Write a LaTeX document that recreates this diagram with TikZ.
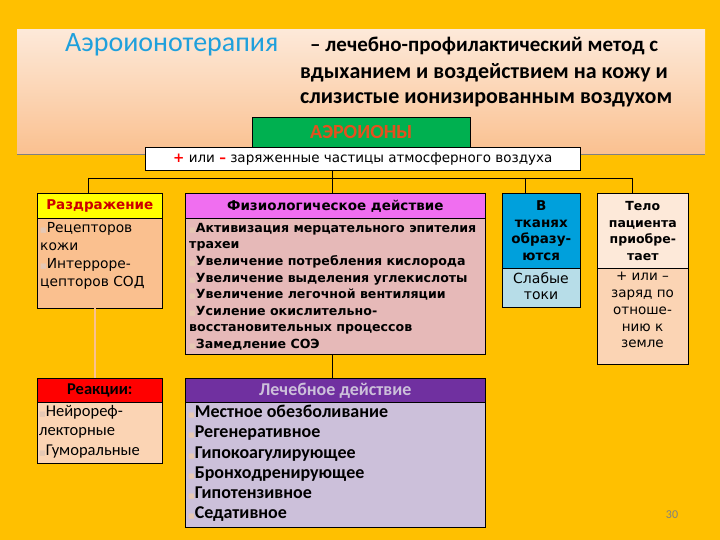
\documentclass[tikz,border=0pt]{standalone}
\usepackage{fontspec}
\setmainfont{DejaVu Sans}
\newfontfamily\crl{Carlito}
\newfontfamily\djv{DejaVu Sans}
\definecolor{bg}{RGB}{255,192,0}
\definecolor{ttl}{RGB}{31,160,220}
\definecolor{grn}{RGB}{0,176,80}
\definecolor{ion}{RGB}{230,80,30}
\definecolor{ylw}{RGB}{255,255,0}
\definecolor{razb}{RGB}{250,192,143}
\definecolor{mag}{RGB}{240,110,240}
\definecolor{pnk}{RGB}{230,185,184}
\definecolor{blu}{RGB}{0,160,220}
\definecolor{lblu}{RGB}{183,221,232}
\definecolor{lpch}{RGB}{253,233,217}
\definecolor{pch}{RGB}{251,212,180}
\definecolor{red1}{RGB}{255,0,0}
\definecolor{pur}{RGB}{112,48,160}
\definecolor{lav}{RGB}{204,192,218}
\definecolor{blt}{RGB}{230,200,180}
\newcommand{\bl}{{\djv\mdseries\fontsize{7}{7}\selectfont\textcolor{blt}{■}}}
\begin{document}
\begin{tikzpicture}[x=1pt,y=-1pt,
 box/.style={draw=black,line width=0.6pt,anchor=north west,inner sep=3pt},
 hdr/.style={box,align=center,font=\bfseries\fontsize{13.5}{15}\selectfont},
 ln/.style={draw=black,line width=0.6pt}]
\fill[bg] (0,0) rectangle (720,540);
\useasboundingbox (0,0) rectangle (720,540);
\shade[top color=lpch,bottom color=razb] (17,30) rectangle (705,155);
\draw[gray,line width=1pt] (17,155) -- (705,155);
\node[anchor=west,font=\crl\fontsize{28}{30}\selectfont,text=ttl,inner sep=0pt] (t1) at (65,45) {Аэроионотерапия};
\node[anchor=west,font=\crl\bfseries\fontsize{21}{24}\selectfont,inner sep=0pt] (t2) at (310,46) {– лечебно-профилактический метод с};
\node[anchor=west,font=\crl\bfseries\fontsize{22}{24}\selectfont,inner sep=0pt] (t3) at (300,73) {вдыханием и воздействием на кожу и};
\node[anchor=west,font=\crl\bfseries\fontsize{22}{24}\selectfont,inner sep=0pt] (t4) at (300,100) {слизистые ионизированным воздухом};

\node[box,fill=grn,minimum width=218pt,minimum height=30pt,font=\crl\bfseries\fontsize{20}{20}\selectfont,text=ion] (ion) at (252,117) {АЭРОИОНЫ};
\node[box,fill=white,minimum width=435pt,minimum height=23pt,inner sep=1pt,font=\fontsize{13.5}{14}\selectfont] (zar) at (145,147) {\textcolor{red1}{\bfseries +} или \textcolor{red1}{\bfseries –} заряженные частицы атмосферного воздуха};

\node[hdr,fill=ylw,text=red1!80!black,minimum width=125pt,minimum height=25pt] (rh) at (37,193) {Раздражение};
\node[box,fill=razb,minimum width=125pt,minimum height=90pt] (rb) at (37,218) {};
\node[anchor=north west,align=left,font=\fontsize{13.8}{18}\selectfont,inner sep=3pt] (rt) at (37,219) {\bl Рецепторов\\кожи\\\bl Интерроре-\\цепторов СОД};

\node[hdr,fill=mag,minimum width=300pt,minimum height=25pt] (fh) at (185,193) {Физиологическое действие};
\node[box,fill=pnk,minimum width=300pt,minimum height=136pt] (fb) at (185,218) {};
\node[anchor=north west,align=left,font=\bfseries\fontsize{12.6}{16.6}\selectfont,inner sep=3pt] (ft) at (186,220) {\bl Активизация мерцательного эпителия\\трахеи\\\bl Увеличение потребления кислорода\\\bl Увеличение выделения углекислоты\\\bl Увеличение легочной вентиляции\\\bl Усиление окислительно-\\восстановительных процессов\\\bl Замедление СОЭ};

\node[hdr,fill=blu,minimum width=78pt,minimum height=75pt,inner sep=1pt,font=\bfseries\fontsize{13.5}{16.5}\selectfont] (vh) at (502,193) {В\\тканях\\образу-\\ются};
\node[box,fill=lblu,minimum width=78pt,minimum height=39pt] (vb) at (502,268) {};
\node[anchor=north,align=center,font=\fontsize{14}{16.5}\selectfont,inner sep=2pt] (vt) at (541,270) {Слабые\\токи};

\node[hdr,fill=lpch,minimum width=91pt,minimum height=75pt,inner sep=1pt,font=\bfseries\fontsize{12.5}{16.5}\selectfont] (th) at (597,193) {Тело\\пациента\\приобре-\\тает};
\node[box,fill=pch,minimum width=91pt,minimum height=96pt] (tb) at (597,268) {};
\node[anchor=north,align=center,font=\fontsize{13.5}{16.8}\selectfont,inner sep=2pt] (tt) at (642.5,270) {+ или –\\заряд по\\отноше-\\нию к\\земле};

\node[hdr,fill=red1,minimum width=125pt,minimum height=24pt,inner sep=1pt,font=\crl\bfseries\fontsize{16.5}{16}\selectfont] (reh) at (37,378) {Реакции:};
\node[box,fill=pch,minimum width=125pt,minimum height=61pt] (reb) at (37,402) {};
\node[anchor=north west,align=left,font=\crl\fontsize{16.5}{19.5}\selectfont,inner sep=2pt] (ret) at (37,403) {\bl Нейрореф-\\лекторные\\\bl Гуморальные};

\node[hdr,fill=pur,text=lav,minimum width=300pt,minimum height=24pt,inner sep=1pt,font=\crl\bfseries\fontsize{18}{18}\selectfont] (lh) at (185,378) {Лечебное действие};
\node[box,fill=lav,minimum width=300pt,minimum height=125pt] (lb) at (185,402) {};
\node[anchor=north west,align=left,font=\crl\bfseries\fontsize{18}{20.2}\selectfont,inner sep=2pt] (lt) at (186,403) {\bl Местное обезболивание\\\bl Регенеративное\\\bl Гипокоагулирующее\\\bl Бронходренирующее\\\bl Гипотензивное\\\bl Седативное};

\node[font=\crl\fontsize{12}{12}\selectfont,text=gray] (num) at (672,515) {30};

\coordinate (bus) at (332,178);
\coordinate (bl) at (88,178);
\coordinate (br) at (632,178);
\draw[ln] (zar.south -| bus) -- (bus);
\draw[ln] (bl) -- (br);
\draw[ln] (bl) -- (bl |- rh.north);
\draw[ln] (bus) -- (bus |- fh.north);
\draw[ln] (525,178) -- (525,193);
\draw[ln] (br) -- (br |- th.north);
\draw[ln,double=razb,double distance=1.5pt] (95,308) -- (95,378);
\draw[ln] (fb.south -| bus) -- (lh.north -| bus);
\end{tikzpicture}
\end{document}
